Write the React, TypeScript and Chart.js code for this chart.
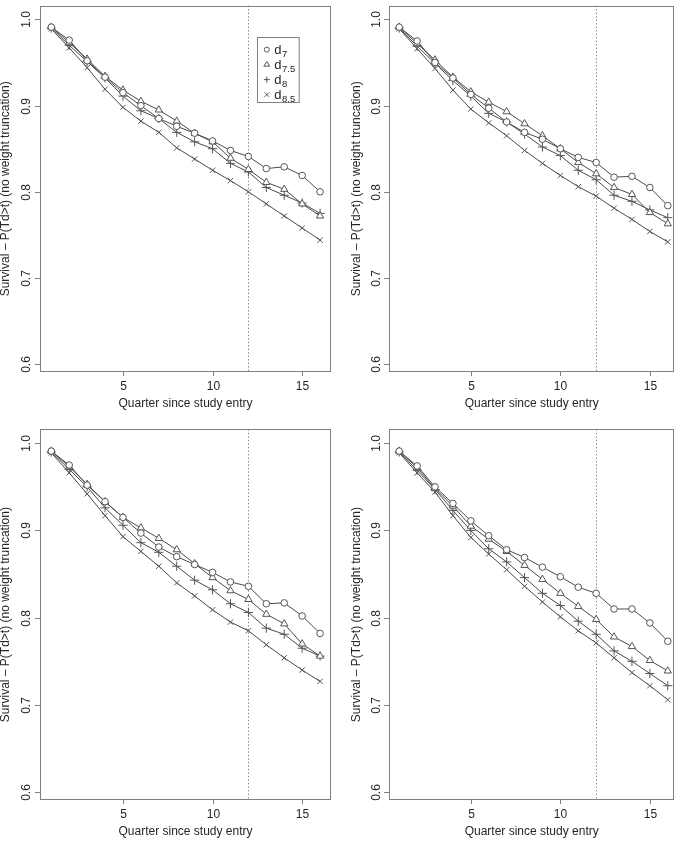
import React, { useEffect, useRef } from 'react';
import { Chart, registerables } from 'chart.js';

Chart.register(...registerables);

// ---------- data ----------
const quarters = [1, 2, 3, 4, 5, 6, 7, 8, 9, 10, 11, 12, 13, 14, 15, 16];
const xTicks = [5, 10, 15];
const yTicks = [0.6, 0.7, 0.8, 0.9, 1.0];
const yTickLabels = ['0.6', '0.7', '0.8', '0.9', '1.0'];
const seriesSubs = ['7', '7.5', '8', '8.5'];
const cutoffQuarter = 12;
const xTitle = 'Quarter since study entry';
const yTitle = 'Survival \u2013 P(Td>t) (no weight truncation)';

// Panel A (top-left)
const a_d7 = [0.991, 0.976, 0.952, 0.933, 0.915, 0.900, 0.885, 0.876, 0.868, 0.859, 0.848, 0.841, 0.827, 0.829, 0.819, 0.800];
const a_d75 = [0.991, 0.973, 0.954, 0.934, 0.918, 0.905, 0.895, 0.882, 0.868, 0.858, 0.839, 0.826, 0.811, 0.803, 0.786, 0.772];
const a_d8 = [0.990, 0.970, 0.951, 0.932, 0.911, 0.894, 0.885, 0.869, 0.858, 0.850, 0.833, 0.823, 0.805, 0.796, 0.787, 0.775];
const a_d85 = [0.989, 0.967, 0.944, 0.919, 0.898, 0.882, 0.869, 0.851, 0.838, 0.825, 0.813, 0.800, 0.786, 0.772, 0.758, 0.744];

// Panel B (top-right)
const b_d7 = [0.991, 0.975, 0.950, 0.932, 0.913, 0.897, 0.881, 0.869, 0.861, 0.850, 0.840, 0.834, 0.817, 0.818, 0.805, 0.784];
const b_d75 = [0.991, 0.972, 0.953, 0.933, 0.916, 0.904, 0.893, 0.879, 0.865, 0.850, 0.834, 0.821, 0.805, 0.797, 0.776, 0.763];
const b_d8 = [0.990, 0.969, 0.949, 0.929, 0.911, 0.891, 0.881, 0.867, 0.852, 0.842, 0.825, 0.814, 0.796, 0.789, 0.779, 0.770];
const b_d85 = [0.989, 0.966, 0.943, 0.918, 0.896, 0.880, 0.865, 0.848, 0.833, 0.819, 0.806, 0.795, 0.781, 0.768, 0.754, 0.742];

// Panel C (bottom-left)
const c_d7 = [0.991, 0.975, 0.952, 0.933, 0.915, 0.897, 0.881, 0.870, 0.861, 0.852, 0.841, 0.836, 0.816, 0.817, 0.802, 0.782];
const c_d75 = [0.991, 0.973, 0.953, 0.933, 0.915, 0.903, 0.891, 0.878, 0.862, 0.846, 0.831, 0.821, 0.804, 0.793, 0.770, 0.756];
const c_d8 = [0.990, 0.970, 0.950, 0.926, 0.906, 0.886, 0.875, 0.859, 0.843, 0.832, 0.816, 0.806, 0.788, 0.781, 0.765, 0.756];
const c_d85 = [0.989, 0.966, 0.942, 0.917, 0.893, 0.876, 0.859, 0.840, 0.825, 0.809, 0.795, 0.785, 0.769, 0.754, 0.740, 0.727];

// Panel D (bottom-right)
const d_d7 = [0.991, 0.974, 0.950, 0.931, 0.911, 0.894, 0.878, 0.869, 0.858, 0.847, 0.835, 0.828, 0.810, 0.810, 0.794, 0.773];
const d_d75 = [0.991, 0.972, 0.948, 0.928, 0.905, 0.890, 0.876, 0.860, 0.844, 0.828, 0.813, 0.798, 0.778, 0.767, 0.751, 0.739];
const d_d8 = [0.990, 0.969, 0.947, 0.923, 0.900, 0.879, 0.864, 0.846, 0.828, 0.814, 0.796, 0.781, 0.762, 0.750, 0.736, 0.722];
const d_d85 = [0.989, 0.966, 0.944, 0.917, 0.892, 0.873, 0.855, 0.836, 0.818, 0.801, 0.785, 0.771, 0.754, 0.737, 0.722, 0.706];

// ---------- styling ----------
const FONT = '"Liberation Sans", Arial, Helvetica, sans-serif';
const LINE_COLOR = '#4a4a4a';
const MARK_COLOR = '#555555';
const BOX_COLOR = '#808080';
const TEXT_COLOR = '#262626';

const pointStyles: any[] = ['circle', 'triangle', 'cross', 'crossRot'];
const pointRadii = [3.3, 4.2, 4.6, 3.8];
const pointFills = ['#ffffff', '#ffffff', '#ffffff', '#ffffff'];

type PanelCfg = {
  left: number;
  top: number;
  width: number;
  height: number;
  padding: { left: number; right: number; top: number; bottom: number };
  xMin: number;
  xMax: number;
  tickLabelOffset: number;
  titleOffset: number;
  legend: boolean;
  series: number[][];
};

const Y_MIN = 0.591;
const Y_MAX = 1.016;

const panels: PanelCfg[] = [
  {
    left: 0, top: 0, width: 340, height: 420,
    padding: { left: 40, right: 9, top: 0, bottom: 48 },
    xMin: 0.37, xMax: 16.61, tickLabelOffset: 13, titleOffset: 34, legend: true,
    series: [a_d7, a_d75, a_d8, a_d85],
  },
  {
    left: 340, top: 0, width: 340, height: 420,
    padding: { left: 49, right: 5.5, top: 0, bottom: 48 },
    xMin: 0.43, xMax: 16.37, tickLabelOffset: 12, titleOffset: 32, legend: false,
    series: [b_d7, b_d75, b_d8, b_d85],
  },
  {
    left: 0, top: 420, width: 340, height: 421,
    padding: { left: 40, right: 9, top: 9.3, bottom: 41 },
    xMin: 0.37, xMax: 16.61, tickLabelOffset: 13, titleOffset: 34, legend: false,
    series: [c_d7, c_d75, c_d8, c_d85],
  },
  {
    left: 340, top: 420, width: 340, height: 421,
    padding: { left: 49, right: 5.5, top: 9.3, bottom: 41 },
    xMin: 0.43, xMax: 16.37, tickLabelOffset: 12, titleOffset: 32, legend: false,
    series: [d_d7, d_d75, d_d8, d_d85],
  },
];

function drawSymbol(ctx: CanvasRenderingContext2D, style: string, x: number, y: number, r: number) {
  ctx.beginPath();
  if (style === 'circle') {
    ctx.arc(x, y, r, 0, Math.PI * 2);
  } else if (style === 'triangle') {
    const h = r * 1.5;
    ctx.moveTo(x, y - h * 0.66);
    ctx.lineTo(x + r, y + h * 0.34);
    ctx.lineTo(x - r, y + h * 0.34);
    ctx.closePath();
  } else if (style === 'cross') {
    ctx.moveTo(x - r, y);
    ctx.lineTo(x + r, y);
    ctx.moveTo(x, y - r);
    ctx.lineTo(x, y + r);
  } else {
    const d = r * 0.75;
    ctx.moveTo(x - d, y - d);
    ctx.lineTo(x + d, y + d);
    ctx.moveTo(x + d, y - d);
    ctx.lineTo(x - d, y + d);
  }
  ctx.stroke();
}

function makeFramePlugin(cfg: PanelCfg) {
  return {
    id: 'rframe',
    beforeDatasetsDraw(chart: any) {
      const { ctx, chartArea } = chart;
      const xs = chart.scales.x;
      const px = xs.getPixelForValue(cutoffQuarter);
      ctx.save();
      ctx.strokeStyle = '#8a8a8a';
      ctx.lineWidth = 1;
      ctx.setLineDash([1.5, 2]);
      ctx.beginPath();
      ctx.moveTo(Math.round(px) + 0.5, chartArea.top);
      ctx.lineTo(Math.round(px) + 0.5, chartArea.bottom);
      ctx.stroke();
      ctx.restore();
    },
    afterDraw(chart: any) {
      const { ctx, chartArea } = chart;
      const xs = chart.scales.x;
      const ys = chart.scales.y;
      const L = chartArea.left, R = chartArea.right, T = chartArea.top, B = chartArea.bottom;
      ctx.save();
      // box
      ctx.strokeStyle = BOX_COLOR;
      ctx.lineWidth = 1;
      ctx.strokeRect(Math.round(L) + 0.5, Math.round(T) + 0.5, Math.round(R - L) - 1, Math.round(B - T) - 1);
      // x ticks
      ctx.fillStyle = TEXT_COLOR;
      ctx.font = `12px ${FONT}`;
      ctx.textAlign = 'center';
      ctx.textBaseline = 'middle';
      xTicks.forEach((v) => {
        const p = Math.round(xs.getPixelForValue(v)) + 0.5;
        ctx.beginPath();
        ctx.moveTo(p, B);
        ctx.lineTo(p, B + 4);
        ctx.stroke();
        ctx.fillText(String(v), p, B + 15);
      });
      ctx.fillText(xTitle, (L + R) / 2, B + 32);
      // y ticks
      yTicks.forEach((v, i) => {
        const p = Math.round(ys.getPixelForValue(v)) + 0.5;
        ctx.beginPath();
        ctx.moveTo(L - 5, p);
        ctx.lineTo(L, p);
        ctx.stroke();
        ctx.save();
        ctx.translate(L - cfg.tickLabelOffset, p);
        ctx.rotate(-Math.PI / 2);
        ctx.fillText(yTickLabels[i], 0, 0);
        ctx.restore();
      });
      ctx.save();
      ctx.translate(L - cfg.titleOffset, (T + B) / 2);
      ctx.rotate(-Math.PI / 2);
      ctx.fillText(yTitle, 0, 0);
      ctx.restore();

      // legend
      if (cfg.legend) {
        const bx = R - 32 - 41.7;
        const by = T + 31;
        const bw = 41.7;
        const bh = 65;
        ctx.strokeStyle = BOX_COLOR;
        ctx.strokeRect(Math.round(bx) + 0.5, Math.round(by) + 0.5, bw, bh);
        seriesSubs.forEach((sub, i) => {
          const cy = by + 13 + i * 15;
          ctx.strokeStyle = MARK_COLOR;
          ctx.lineWidth = 1;
          drawSymbol(ctx, pointStyles[i], bx + 9.5, cy, i === 0 ? 2.5 : 3);
          ctx.fillStyle = TEXT_COLOR;
          ctx.textAlign = 'left';
          ctx.textBaseline = 'alphabetic';
          ctx.font = `13px ${FONT}`;
          ctx.fillText('d', bx + 17, cy + 4);
          const w = ctx.measureText('d').width;
          ctx.font = `9.5px ${FONT}`;
          ctx.fillText(sub, bx + 17 + w + 0.5, cy + 7);
        });
      }
      ctx.restore();
    },
  };
}

function Panel({ cfg }: { cfg: PanelCfg }) {
  const ref = useRef<HTMLCanvasElement | null>(null);
  useEffect(() => {
    if (!ref.current) return;
    const datasets = cfg.series.map((vals, i) => ({
      label: 'd' + seriesSubs[i],
      data: quarters.map((q, j) => ({ x: q, y: vals[j] })),
      borderColor: LINE_COLOR,
      borderWidth: 1,
      pointStyle: pointStyles[i],
      pointRadius: pointRadii[i],
      pointBorderColor: MARK_COLOR,
      pointBackgroundColor: pointFills[i],
      pointBorderWidth: 1,
      tension: 0,
      fill: false,
      clip: false as any,
    }));
    const chart = new Chart(ref.current, {
      type: 'line',
      data: { datasets },
      options: {
        responsive: false,
        animation: false,
        devicePixelRatio: 1,
        layout: { padding: cfg.padding },
        plugins: { legend: { display: false }, tooltip: { enabled: false } },
        events: [],
        scales: {
          x: { type: 'linear', min: cfg.xMin, max: cfg.xMax, display: false },
          y: { type: 'linear', min: Y_MIN, max: Y_MAX, display: false },
        },
      },
      plugins: [makeFramePlugin(cfg)],
    });
    return () => chart.destroy();
  }, [cfg]);
  return (
    <canvas
      ref={ref}
      width={cfg.width}
      height={cfg.height}
      style={{ position: 'absolute', left: cfg.left, top: cfg.top, width: cfg.width, height: cfg.height }}
    />
  );
}

export default function App() {
  return (
    <div style={{ position: 'absolute', left: 0, top: 0, width: 680, height: 841, background: '#ffffff', overflow: 'hidden' }}>
      {panels.map((p, i) => (
        <Panel key={i} cfg={p} />
      ))}
    </div>
  );
}
